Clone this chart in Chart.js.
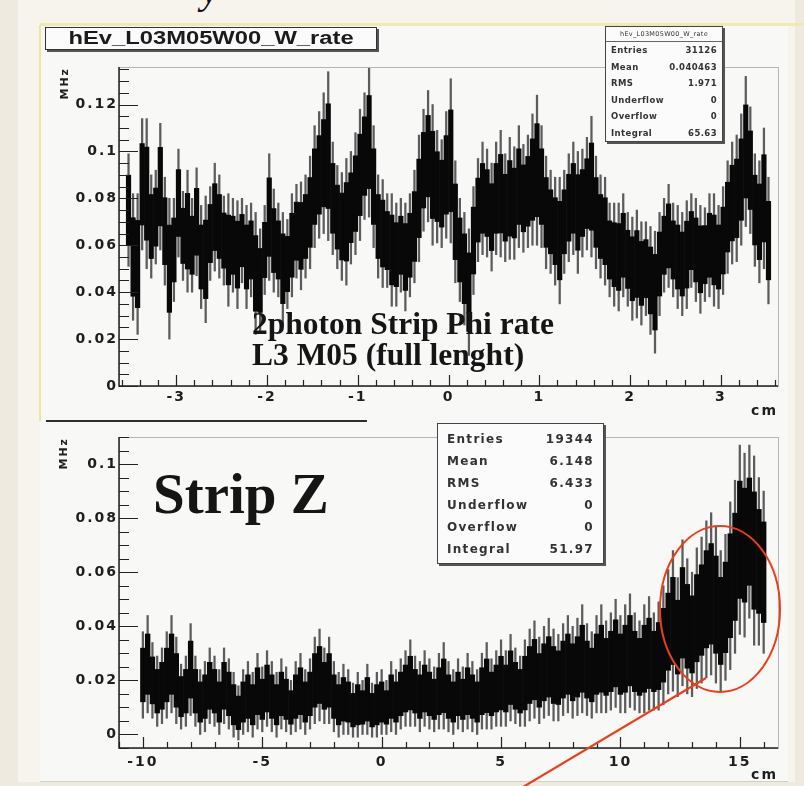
<!DOCTYPE html>
<html>
<head>
<meta charset="utf-8">
<script src="https://cdn.jsdelivr.net/npm/chart.js@4.4.1/dist/chart.umd.min.js"></script>
<style>
  html, body { margin: 0; padding: 0; }
  body { width: 804px; height: 786px; position: relative; overflow: hidden; background: #efeadf; font-family: "DejaVu Sans", sans-serif; }
  .abs { position: absolute; }
  .sheet { left: 18px; top: 0; width: 777px; height: 782px; background: #f6f4ec; }
  .panel { left: 40px; top: 25px; width: 748px; height: 756px; background: #f8f8f7; border-bottom: 1px solid #cfcfcb; }
  .yel-top { left: 40px; top: 23px; width: 764px; height: 3px; background: #efeab0; }
  .yel-left { left: 39px; top: 25px; width: 2px; height: 396px; background: #ece79c; }
  .rule { left: 46px; top: 420px; width: 321px; height: 2px; background: #2e2e2e; }
  canvas { position: absolute; }
  .title-box { left: 45px; top: 27px; width: 330px; height: 21px; background: #fbfbfb; border: 1.5px solid #333; box-shadow: 2px 2px 0 #555; text-align: center; color: #1b1b1b; overflow: hidden; }
  .title-box span { display: inline-block; font-family: "Liberation Sans", sans-serif; font-weight: bold; font-size: 18px; line-height: 21px; transform: scaleX(1.32); }
  .stats { background: #fbfbfb; border: 1px solid #444; box-shadow: 2px 2px 0 #555; color: #333; font-weight: bold; }
  .stats .row { display: flex; justify-content: space-between; align-items: center; }
  .note { font-family: "Liberation Serif", serif; font-weight: bold; color: #151515; white-space: nowrap; line-height: 1; }
  .ydesc { left: 201px; top: -30px; font-family: "Liberation Serif", serif; font-style: italic; font-size: 40px; line-height: 1; color: #111; }
</style>
</head>
<body>
<div class="abs sheet"></div>
<div class="abs panel"></div>
<div class="abs yel-top"></div>
<div class="abs yel-left"></div>
<div class="abs rule"></div>
<div class="abs ydesc">y</div>

<canvas id="phiChart" width="760" height="395" style="left:40px;top:25px"></canvas>
<canvas id="zChart" width="760" height="366" style="left:40px;top:420px"></canvas>

<div class="abs title-box"><span>hEv_L03M05W00_W_rate</span></div>
<div class="abs stats" id="phiStats" style="left:605px;top:26px;width:116px;"></div>
<div class="abs stats" id="zStats" style="left:437px;top:423px;width:165px;"></div>

<div class="abs note" style="left:252px;top:308px;font-size:31.5px">2photon Strip Phi rate</div>
<div class="abs note" style="left:252px;top:339px;font-size:31.5px">L3 M05 (full lenght)</div>
<div class="abs note" style="left:153px;top:465px;font-size:57px">Strip Z</div>

<svg class="abs" width="804" height="786" style="left:0;top:0;pointer-events:none">
  <ellipse cx="720" cy="609" rx="60" ry="83" fill="none" stroke="#ea3f1b" stroke-width="2"/>
  <line x1="518" y1="790" x2="706" y2="678" stroke="#ea3f1b" stroke-width="2.2"/>
</svg>

<script>
// histogramma phi (cm, MHz)
const phiRange = [-3.55, 3.55];
const phiRate = [
  0.075,0.055,0.052,0.086,0.082,0.068,0.072,0.085,0.066,0.05,
  0.058,0.078,0.064,0.066,0.06,0.07,0.055,0.054,0.065,0.072,
  0.068,0.062,0.058,0.06,0.056,0.062,0.055,0.058,0.048,0.045,
  0.058,0.072,0.062,0.058,0.05,0.052,0.06,0.066,0.064,0.068,
  0.074,0.085,0.09,0.095,0.098,0.08,0.072,0.068,0.07,0.076,
  0.082,0.09,0.098,0.104,0.085,0.068,0.065,0.062,0.058,0.056,
  0.06,0.055,0.06,0.068,0.08,0.092,0.098,0.09,0.085,0.082,
  0.09,0.096,0.07,0.058,0.05,0.04,0.062,0.075,0.08,0.078,
  0.072,0.08,0.082,0.076,0.08,0.078,0.085,0.08,0.083,0.088,
  0.092,0.085,0.074,0.07,0.066,0.062,0.07,0.076,0.08,0.074,
  0.078,0.082,0.085,0.074,0.068,0.066,0.058,0.056,0.055,0.06,
  0.054,0.05,0.052,0.048,0.05,0.045,0.04,0.052,0.06,0.064,
  0.058,0.055,0.052,0.056,0.062,0.058,0.054,0.056,0.06,0.058,
  0.055,0.062,0.072,0.078,0.08,0.088,0.1,0.092,0.075,0.07,0.08,0.062
];
const phiErr = [
  0.024,0.027,0.03,0.028,0.032,0.022,0.02,0.027,0.023,0.03,
  0.022,0.023,0.019,0.026,0.02,0.023,0.022,0.027,0.02,0.023,
  0.022,0.019,0.024,0.02,0.023,0.018,0.022,0.02,0.026,0.022,
  0.019,0.027,0.022,0.02,0.024,0.019,0.022,0.02,0.023,0.022,
  0.024,0.026,0.027,0.03,0.036,0.024,0.022,0.023,0.027,0.024,
  0.026,0.028,0.027,0.032,0.026,0.022,0.023,0.02,0.024,0.022,
  0.02,0.023,0.022,0.024,0.027,0.026,0.028,0.03,0.024,0.023,
  0.027,0.035,0.026,0.022,0.024,0.027,0.023,0.022,0.024,0.023,
  0.023,0.024,0.027,0.023,0.026,0.024,0.026,0.023,0.024,0.028,
  0.032,0.026,0.024,0.022,0.023,0.027,0.022,0.023,0.024,0.026,
  0.023,0.024,0.03,0.024,0.022,0.023,0.02,0.022,0.023,0.022,
  0.02,0.022,0.023,0.022,0.02,0.023,0.026,0.022,0.02,0.022,
  0.02,0.022,0.022,0.023,0.02,0.022,0.023,0.02,0.022,0.024,
  0.022,0.023,0.024,0.026,0.027,0.028,0.032,0.027,0.024,0.026,0.03,0.027
];
const phiXTicks = [-3, -2, -1, 0, 1, 2, 3];
const phiYTicks = [0, 0.02, 0.04, 0.06, 0.08, 0.1, 0.12];
const phiStats = [
  ["Entries", "31126"], ["Mean", "0.040463"], ["RMS", "1.971"],
  ["Underflow", "0"], ["Overflow", "0"], ["Integral", "65.63"]
];

// histogramma z
const zRange = [-10.1, 16.1];
const zRate = [
  0.022,0.026,0.02,0.016,0.018,
  0.022,0.026,0.02,0.014,0.016,
  0.024,0.016,0.012,0.014,0.018,
  0.016,0.012,0.018,0.015,0.011,
  0.008,0.012,0.014,0.011,0.016,
  0.013,0.017,0.014,0.011,0.015,
  0.013,0.01,0.014,0.016,0.012,
  0.015,0.02,0.022,0.018,0.02,
  0.014,0.011,0.013,0.012,0.009,
  0.011,0.01,0.013,0.009,0.011,
  0.012,0.01,0.014,0.012,0.015,
  0.017,0.019,0.016,0.014,0.017,
  0.015,0.013,0.016,0.018,0.014,
  0.012,0.015,0.013,0.016,0.014,
  0.012,0.016,0.018,0.015,0.017,
  0.019,0.017,0.021,0.018,0.016,
  0.019,0.022,0.024,0.02,0.023,
  0.025,0.022,0.021,0.024,0.026,
  0.023,0.025,0.028,0.024,0.022,
  0.026,0.028,0.025,0.027,0.03,
  0.026,0.028,0.031,0.027,0.025,
  0.028,0.03,0.027,0.029,0.033,
  0.038,0.042,0.036,0.045,0.04,
  0.037,0.043,0.046,0.05,0.052,
  0.048,0.042,0.047,0.055,0.062,
  0.072,0.07,0.075,0.068,0.064,
  0.06
];
const zErr = [
  0.016,0.018,0.014,0.013,0.014,
  0.016,0.018,0.016,0.012,0.013,
  0.017,0.013,0.012,0.013,0.014,
  0.013,0.012,0.014,0.013,0.012,
  0.01,0.012,0.013,0.012,0.014,
  0.012,0.014,0.013,0.012,0.013,
  0.012,0.01,0.013,0.014,0.012,
  0.013,0.016,0.017,0.014,0.016,
  0.013,0.012,0.013,0.012,0.01,
  0.012,0.01,0.013,0.01,0.012,
  0.012,0.01,0.013,0.012,0.013,
  0.014,0.016,0.013,0.013,0.014,
  0.013,0.012,0.014,0.016,0.013,
  0.012,0.013,0.012,0.014,0.013,
  0.012,0.014,0.016,0.013,0.014,
  0.016,0.014,0.016,0.014,0.013,
  0.016,0.017,0.018,0.016,0.017,
  0.018,0.017,0.016,0.017,0.018,
  0.017,0.018,0.02,0.017,0.016,
  0.018,0.02,0.017,0.018,0.02,
  0.018,0.02,0.021,0.018,0.017,
  0.02,0.021,0.018,0.02,0.022,
  0.023,0.026,0.022,0.027,0.025,
  0.023,0.026,0.027,0.029,0.03,
  0.029,0.026,0.027,0.031,0.032,
  0.035,0.034,0.032,0.035,0.031,
  0.03
];
const zXTicks = [-10, -5, 0, 5, 10, 15];
const zYTicks = [0, 0.02, 0.04, 0.06, 0.08, 0.1];
const zStats = [
  ["Entries", "19344"], ["Mean", "6.148"], ["RMS", "6.433"],
  ["Underflow", "0"], ["Overflow", "0"], ["Integral", "51.97"]
];

Chart.defaults.font.family = "DejaVu Sans";
Chart.defaults.font.weight = "bold";
Chart.defaults.color = "#1e1e1e";

// barre d'errore: bin da range + contenuti
function errorBars(range, rate, err) {
  const w = (range[1] - range[0]) / rate.length;
  const whisk = [], core = [];
  rate.forEach((v, i) => {
    const x = range[0] + (i + 0.5) * w;
    whisk.push({ x: x, y: [v - err[i], v + err[i]] });
    core.push({ x: x, y: [v - err[i] * 0.62, v + err[i] * 0.62] });
  });
  return [
    { data: core, backgroundColor: "#080808", grouped: false, barPercentage: 1, categoryPercentage: 1, order: 0 },
    { data: whisk, backgroundColor: "#5c5c5c", grouped: false, barThickness: 1.6, order: 1 }
  ];
}

// cornice e tacche stile ROOT
const rootAxes = {
  id: "rootAxes",
  beforeDraw(chart) {
    chart.ctx.letterSpacing = "2px";
  },
  afterDraw(chart, args, o) {
    const { ctx, chartArea: a, scales: { x, y } } = chart;
    ctx.save();
    ctx.strokeStyle = "#b5b5b5";
    ctx.lineWidth = 1;
    ctx.strokeRect(a.left + 0.5, a.top + 0.5, a.width, a.height);
    ctx.strokeStyle = "#222";
    ctx.lineWidth = 1.5;
    ctx.beginPath();
    ctx.moveTo(a.left, a.top);
    ctx.lineTo(a.left, a.bottom);
    ctx.lineTo(a.right, a.bottom);
    ctx.stroke();
    ctx.lineWidth = 1.2;
    ctx.beginPath();
    for (let k = Math.ceil(y.min / o.yMinor - 1e-6); k * o.yMinor <= y.max + 1e-9; k++) {
      const v = k * o.yMinor;
      const major = o.yMajor.some(t => Math.abs(t - v) < 1e-6);
      const py = Math.round(y.getPixelForValue(v)) + 0.5;
      ctx.moveTo(a.left, py);
      ctx.lineTo(a.left + (major ? 19 : 10), py);
    }
    for (let k = Math.ceil(x.min / o.xMinor - 1e-6); k * o.xMinor <= x.max + 1e-9; k++) {
      const v = k * o.xMinor;
      const major = o.xMajor.some(t => Math.abs(t - v) < 1e-6);
      const px = Math.round(x.getPixelForValue(v)) + 0.5;
      ctx.moveTo(px, a.bottom);
      ctx.lineTo(px, a.bottom - (major ? 11 : 6));
    }
    ctx.stroke();
    ctx.restore();
  }
};

function fmt(v) {
  return String(+v.toFixed(3));
}

function histChart(id, cfg) {
  return new Chart(document.getElementById(id), {
    type: "bar",
    data: { datasets: errorBars(cfg.range, cfg.rate, cfg.err) },
    plugins: [rootAxes],
    options: {
      responsive: false,
      animation: false,
      events: [],
      layout: { autoPadding: false, padding: cfg.padding },
      plugins: {
        legend: { display: false },
        tooltip: { enabled: false },
        rootAxes: { xMajor: cfg.xTicks, yMajor: cfg.yTicks, xMinor: cfg.xMinor, yMinor: 0.005 }
      },
      scales: {
        x: {
          type: "linear", min: cfg.xMin, max: cfg.xMax, offset: false,
          grid: { display: false, drawTicks: false }, border: { display: false },
          afterBuildTicks: s => { s.ticks = cfg.xTicks.map(v => ({ value: v })); },
          afterFit: s => { s.height = cfg.xHeight; },
          ticks: { padding: cfg.xPad, font: { size: 14 }, maxRotation: 0, autoSkip: false, callback: fmt },
          title: { display: true, text: "cm", align: "end", font: { size: 14 }, padding: 0 }
        },
        y: {
          min: cfg.yMin, max: cfg.yMax,
          grid: { display: false, drawTicks: false }, border: { display: false },
          afterBuildTicks: s => { s.ticks = cfg.yTicks.map(v => ({ value: v })); },
          afterFit: s => { s.width = 79; },
          ticks: { padding: 1, font: { size: 14 }, autoSkip: false, callback: fmt },
          title: { display: true, text: "MHz", align: "end", font: { size: 11 }, padding: { top: cfg.mhzPad } }
        }
      }
    }
  });
}

histChart("phiChart", {
  range: phiRange, rate: phiRate, err: phiErr,
  xMin: -3.63, xMax: 3.63, yMin: 0, yMax: 0.136,
  xTicks: phiXTicks, yTicks: phiYTicks, xMinor: 0.2,
  padding: { top: 42, right: 22, bottom: 0, left: 0 },
  xHeight: 34, xPad: 3, mhzPad: 19
});

histChart("zChart", {
  range: zRange, rate: zRate, err: zErr,
  xMin: -11, xMax: 16.6, yMin: -0.005, yMax: 0.11,
  xTicks: zXTicks, yTicks: zYTicks, xMinor: 1,
  padding: { top: 17, right: 22, bottom: 2, left: 0 },
  xHeight: 36, xPad: 6, mhzPad: 18
});

// riquadri statistiche
function fillStats(el, rows, header, rowH, size) {
  let html = "";
  if (header) {
    html += '<div style="font-size:6.5px;font-weight:normal;text-align:center;height:14px;line-height:14px;border-bottom:1px solid #666;letter-spacing:0.3px">' + header + "</div>";
  }
  rows.forEach(r => {
    html += '<div class="row" style="height:' + rowH + 'px;font-size:' + size + 'px;padding:0 ' + (header ? 5 : 9) + 'px;letter-spacing:' + (header ? 0.4 : 1.3) + 'px">' +
      "<span>" + r[0] + "</span><span>" + r[1] + "</span></div>";
  });
  el.innerHTML = html;
}
fillStats(document.getElementById("phiStats"), phiStats, "hEv_L03M05W00_W_rate", 16.5, 8.5);
fillStats(document.getElementById("zStats"), zStats, null, 22, 12);
document.getElementById("zStats").style.paddingTop = "4px";
document.getElementById("zStats").style.paddingBottom = "3px";
</script>
</body>
</html>
